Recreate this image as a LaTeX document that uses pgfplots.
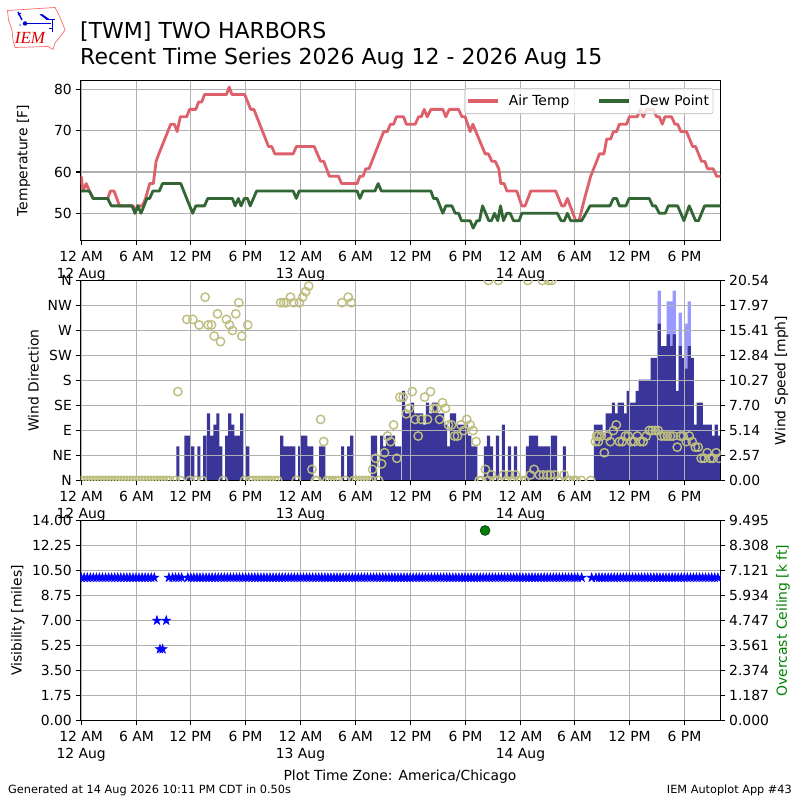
\documentclass[border=0pt]{standalone}
\usepackage{fontspec}
\setmainfont{DejaVu Sans}
\newfontfamily\logofont{Liberation Serif}
\usepackage{pgfplots}
\pgfplotsset{compat=1.18}
\definecolor{tempc}{RGB}{222,96,106}
\definecolor{dewc}{RGB}{50,102,52}
\definecolor{spdc}{RGB}{58,54,153}
\definecolor{gustc}{RGB}{153,153,255}
\definecolor{dirc}{RGB}{190,190,128}
\definecolor{gridc}{RGB}{176,176,176}
\pgfdeclareplotmark{fstar}{%
  \pgfpathmoveto{\pgfpointpolar{90}{\pgfplotmarksize}}%
  \pgfpathlineto{\pgfpointpolar{126}{0.382*\pgfplotmarksize}}%
  \pgfpathlineto{\pgfpointpolar{162}{\pgfplotmarksize}}%
  \pgfpathlineto{\pgfpointpolar{198}{0.382*\pgfplotmarksize}}%
  \pgfpathlineto{\pgfpointpolar{234}{\pgfplotmarksize}}%
  \pgfpathlineto{\pgfpointpolar{270}{0.382*\pgfplotmarksize}}%
  \pgfpathlineto{\pgfpointpolar{306}{\pgfplotmarksize}}%
  \pgfpathlineto{\pgfpointpolar{342}{0.382*\pgfplotmarksize}}%
  \pgfpathlineto{\pgfpointpolar{18}{\pgfplotmarksize}}%
  \pgfpathlineto{\pgfpointpolar{54}{0.382*\pgfplotmarksize}}%
  \pgfpathclose\pgfusepathqfillstroke}
\newcommand\fs{\fontsize{13.9bp}{17bp}\selectfont}
\pgfplotsset{
  base/.style={
    width=640bp, scale only axis, xmin=-0.073, xmax=69.964,
    font=\fs, tick style={black, line width=1.1bp}, major tick length=4.9bp,
    tick align=outside, axis line style={line width=1.1bp},
    grid style={gridc, line width=1.1bp},
    xtick={0,6.055,11.965,17.983,24.002,30.021,36.040,42.059,48.078,53.987,60.006,66.025},
    xticklabels={{12 AM\\12 Aug},6 AM,12 PM,6 PM,{12 AM\\13 Aug},6 AM,12 PM,6 PM,{12 AM\\14 Aug},6 AM,12 PM,6 PM},
    xticklabel style={align=center, anchor=north, inner sep=0pt, yshift=-5.2bp, font=\fs},
    yticklabel style={inner sep=0pt, font=\fs},
    clip marker paths=true,
  },
  lefttk/.style={yticklabel style={xshift=-3.6bp}},
}
\begin{document}
\begin{tikzpicture}
\path[use as bounding box] (0,0) rectangle (800bp,800bp);
% logo
\begin{scope}[x=1bp,y=-1bp,shift={(0bp,800bp)}]
  \draw[red!70!white!75!pink, line width=0.7bp, fill=white]
    (7.5,10.5)--(55,7.5)--(58,13)--(62,22)--(65,30)--(60,37)--(55,43)--(53,49.5)--(48,46.5)--(15,47.5)--(13,40)--(12,30)--(8.5,20)--cycle;
  \draw[blue!85!black, line width=1.5bp] (25,23.5)--(51,23.5);
  \fill[blue!85!black] (25,23.5) circle (2.2bp);
  \draw[blue!85!black, line width=1.5bp] (18,12)--(22,20);
  \draw[blue!85!black, line width=0.9bp] (21,25)--(19,25) (18,15)--(21,13);
  \fill[blue!85!black] (39.5,14.5)--(42,14)--(50,19.5)--(47,20)--cycle;
  \draw[blue!85!black, line width=0.9bp] (46,19)--(55,19) (52,19)--(52,32) (49,28)--(52,28);
  \node[font=\logofont\itshape\fontsize{17bp}{17bp}\selectfont, text=red!85!black, anchor=base, inner sep=0pt] at (30,44) {IEM};
\end{scope}
% titles
\node[anchor=base west, inner sep=0pt, font=\fontsize{22bp}{22bp}\selectfont] at (80bp,800bp-38.5bp) {[TWM] TWO HARBORS};
\node[anchor=base west, inner sep=0pt, font=\fontsize{22bp}{22bp}\selectfont] at (80bp,800bp-65bp) {Recent Time Series 2026 Aug 12 - 2026 Aug 15};
% TOP PANEL
\begin{axis}[base, lefttk, at={(80.5bp,559.5bp)}, anchor=south west, height=160bp,
  ymin=43.4, ymax=82.2, ytick={50,60,70,80}, yticklabels={50,60,70,80},
  xmajorgrids, ymajorgrids, xtick pos=bottom, ytick pos=left,
  axis background/.style={fill=white},
  ylabel={Temperature [F]},
  ylabel style={at={(axis description cs:-0.089,0.5)}, anchor=center, font=\fs},
  legend columns=2,
  legend cell align=left,
  legend style={at={(axis description cs:0.9888,0.952)}, anchor=north east, draw=black!20,
    fill=white, fill opacity=0.8, draw opacity=1, text opacity=1, rounded corners=2bp,
    line width=0.8bp, inner xsep=2bp, inner ysep=4.5bp, font=\fs,
    /tikz/every even column/.append style={column sep=26bp}},
  legend image code/.code={\draw[#1, line width=3.2bp] (0bp,0bp)--(30bp,0bp);\path (37bp,0bp);},
]
\addplot[tempc, line width=2.8bp, line join=round] coordinates {
(0,59)(0.2,55.4)(0.55,57.2)(0.9,55.4)(1.3,53.6)(2.9,53.6)(3.2,55.4)(3.6,55.4)(4.2,51.8)(5.7,51.8)(5.9,50)(6.15,51.8)(6.7,51.8)(7.05,53.6)(7.5,57.2)(7.9,57.2)(8.2,62.6)(8.5,64.4)(9.8,71.6)(10.2,71.6)(10.5,69.8)(10.85,73.4)(11.55,73.4)(11.85,75.2)(12.55,75.2)(12.85,77)(13.2,77)(13.5,78.8)(15.9,78.8)(16.2,80.6)(16.5,78.8)(17.9,78.8)(18.55,75.2)(18.9,75.2)(20.5,66.2)(20.85,66.2)(21.2,64.4)(23.2,64.4)(23.55,66.2)(25.5,66.2)(26.2,62.6)(26.55,62.6)(27.15,59)(28.15,59)(28.5,57.2)(30.2,57.2)(30.5,59)(30.85,59)(31.15,60.8)(31.5,60.8)(33.1,69.8)(33.5,69.8)(33.85,71.6)(34.2,71.6)(34.5,73.4)(35.28,73.4)(35.58,71.6)(36.56,71.6)(36.92,73.4)(37.22,73.4)(37.54,75.2)(37.87,73.4)(38.27,75.2)(39.58,75.2)(39.91,73.4)(40.28,75.2)(41.3,75.2)(41.66,73.4)(42.02,73.4)(42.57,69.8)(42.86,71.6)(44.21,64.4)(44.57,64.4)(44.94,62.6)(45.3,62.6)(45.7,60.8)(45.92,57.2)(46.29,57.2)(46.58,55.4)(47.67,55.4)(48.22,51.8)(48.58,51.8)(49.2,55.4)(51.93,55.4)(52.59,51.8)(52.88,51.8)(53.21,53.6)(54.12,48.2)(54.48,48.2)(55.14,54)(55.76,59)(56.41,62.6)(56.71,64.4)(57.21,64.4)(57.51,68)(57.94,68)(58.24,69.8)(58.6,69.8)(58.89,71.6)(59.69,71.6)(59.98,73.4)(60.86,73.4)(61.15,75.2)(61.51,73.4)(61.88,75.2)(62.61,75.2)(62.97,73.4)(63.26,73.4)(63.59,71.6)(63.88,73.4)(64.61,73.4)(64.97,71.6)(65.27,71.6)(65.63,69.8)(66.25,69.8)(66.91,66.2)(67.23,66.2)(67.89,62.6)(68.25,62.6)(68.54,60.8)(69.16,60.8)(69.53,59)(69.96,59)
};
\addlegendentry{Air Temp}
\addplot[dewc, line width=2.8bp, line join=round] coordinates {
(0,55.4)(0.9,55.4)(1.3,53.6)(2.9,53.6)(3.3,51.8)(5.55,51.8)(5.9,50)(6.2,51.8)(6.55,50)(7.2,53.6)(7.5,53.6)(7.85,55.4)(8.55,55.4)(8.9,57.2)(10.9,57.2)(12.2,50)(12.55,51.8)(13.5,51.8)(13.85,53.6)(16.55,53.6)(16.85,51.8)(17.2,53.6)(17.5,51.8)(17.85,53.6)(18.2,53.6)(18.5,51.8)(19.2,55.4)(23.2,55.4)(23.55,53.6)(23.85,55.4)(30.2,55.4)(30.5,53.6)(30.85,55.4)(32.15,55.4)(32.5,57.2)(32.85,55.4)(38.27,55.4)(38.56,53.6)(38.93,53.6)(39.58,50)(39.91,51.8)(40.57,51.8)(40.93,50)(41.3,50)(41.62,48.2)(42.57,48.2)(42.9,46.4)(43.3,48.2)(43.59,48.2)(43.92,51.8)(44.61,48.2)(44.9,48.2)(45.23,50)(45.59,48.2)(45.89,51.8)(46.21,48.2)(46.58,50)(46.94,50)(47.31,48.2)(47.93,48.2)(48.22,50)(52.11,50)(52.52,48.2)(52.88,48.2)(53.21,50)(53.57,48.2)(54.77,48.2)(55.69,51.8)(57.87,51.8)(58.24,53.6)(58.6,53.6)(58.89,51.8)(59.62,51.8)(59.95,53.6)(62.17,53.6)(62.53,51.8)(62.86,51.8)(63.26,50)(63.92,50)(64.25,51.8)(65.27,51.8)(65.96,48.2)(66.54,51.8)(67.23,48.2)(67.56,48.2)(68.22,51.8)(69.96,51.8)
};
\addlegendentry{Dew Point}
\end{axis}
% MIDDLE PANEL: wind speed bars (right axis)
\begin{axis}[base, at={(80.5bp,319.5bp)}, anchor=south west, height=200bp,
  ymin=0, ymax=20.54, ytick={0,2.5675,5.135,7.7025,10.27,12.8375,15.405,17.9725,20.54},
  yticklabels={0.00,2.57,5.14,7.70,10.27,12.84,15.41,17.97,20.54},
  yticklabel pos=right, ytick pos=right, xtick pos=bottom, xticklabels={},
  yticklabel style={xshift=3.6bp},
  axis background/.style={fill=white},
  ylabel={Wind Speed [mph]},
  ylabel style={at={(axis description cs:1.0955,0.5)}, anchor=center, font=\fs},
  ybar, bar width=3.2bp,
]
\addplot[bar shift=0bp, fill=gustc, draw=none] coordinates {
(63.26,19.5)(64.25,18.4)(64.57,18.4)(64.9,19.5)(65.56,17.25)(66.21,16.1)(66.54,18.4)
};
\addplot[bar shift=0bp, fill=spdc, draw=none] coordinates {
(10.58,3.5)(11.48,4.6)(11.8,4.6)(12.22,3.5)(12.88,3.5)(13.53,4.6)(13.93,6.9)(14.3,4.6)(14.63,5.75)(14.96,6.9)(15.28,3.5)(15.94,4.6)(16.27,6.9)(16.59,5.75)(16.92,4.6)(17.25,4.6)(17.58,6.9)(18.23,3.5)
(21.95,4.6)(22.28,3.5)(22.6,3.5)(22.93,3.5)(23.26,3.5)(23.92,3.5)(24.24,4.6)(24.57,4.6)(24.9,3.5)(25.23,3.5)
(26.21,3.5)(26.54,3.5)(28.61,3.5)(29.27,3.5)(29.6,4.6)
(31.89,4.6)(32.22,4.6)(32.88,4.6)(33.2,3.5)(33.53,4.6)(33.86,4.6)(34.19,4.6)(34.52,3.5)(34.84,3.5)(35.28,9.2)(35.61,6.9)(35.94,6.9)(36.26,8)(36.59,6.9)(36.92,6.9)(37.25,6.9)(37.57,5.75)(37.9,8)(38.23,6.9)(38.56,8)(38.89,8)(39.22,6.9)(39.54,6.9)(39.87,5.75)(40.2,3.5)(40.53,6.9)(40.85,6.9)(41.18,5.75)(41.51,5.75)(41.84,5.75)(42.17,5.75)(42.53,4.6)(42.86,3.5)(43.18,3.5)
(44.24,3.5)(44.57,4.6)(44.9,3.5)(45.55,4.6)(46.2,5.75)(46.87,3.5)(47.52,3.5)(48.83,3.5)(49.16,4.6)(49.49,4.6)(49.82,4.6)(50.15,3.5)(50.48,3.5)(50.81,3.5)(51.14,3.5)(51.57,4.6)(51.9,4.6)(52.88,3.5)
(56.27,5.75)(56.6,5.75)(56.9,5.75)(57.25,4.6)(57.58,6.9)(57.91,6.9)(58.24,8)(58.56,6.9)(58.89,8)(59.22,8)(59.55,6.9)(59.87,9.2)(60.2,8)(60.53,8)(60.86,9.2)(61.19,10.35)(61.51,10.35)(61.84,10.35)(62.17,10.35)(62.5,12.6)(62.83,12.6)(63.26,16.1)(63.59,13.8)(63.92,13.8)(64.25,15)(64.57,13.8)(64.9,15)(65.23,9.2)(65.56,13.8)(65.88,12.6)(66.21,11.5)(66.54,13.8)(66.87,12.6)(67.2,5.75)(67.52,8)(67.85,8)(68.18,5.75)(68.51,5.75)(68.84,5.75)(69.16,4.6)(69.49,5.75)(69.78,4.6)
};
\end{axis}
% MIDDLE PANEL: direction (left axis)
\begin{axis}[base, lefttk, at={(80.5bp,319.5bp)}, anchor=south west, height=200bp,
  ymin=0, ymax=360, ytick={0,45,...,360}, yticklabels={N,NE,E,SE,S,SW,W,NW,N},
  xmajorgrids, ymajorgrids, xtick pos=bottom, ytick pos=left,
  ylabel={Wind Direction},
  ylabel style={at={(axis description cs:-0.0735,0.5)}, anchor=center, font=\fs},
]
\addplot[only marks, mark=o, mark size=4.2bp, mark options={draw=dirc, line width=1.4bp, fill=none}] coordinates {
(0,0)(0.33,0)(0.67,0)(1,0)(1.33,0)(1.67,0)(2,0)(2.33,0)(2.67,0)(3,0)(3.33,0)(3.67,0)(4,0)(4.33,0)(4.67,0)(5,0)(5.33,0)(5.67,0)(6,0)(6.33,0)(6.67,0)(7,0)(7.33,0)(7.67,0)(8,0)(8.33,0)(8.67,0)(9,0)(9.33,0)(9.67,0)(10.25,0)(10.87,0)(11.9,0)(12.5,0)(13.24,0)(15.54,0)(17.87,0)
(18.5,0)(18.83,0)(19.17,0)(19.5,0)(19.83,0)(20.17,0)(20.5,0)(20.83,0)(21.17,0)(21.5,0)(23.55,0)(25.63,0)(25.81,0)(26.9,0)(27.2,0)(27.5,0)(27.8,0)(28.1,0)(28.9,0)(29.8,0)(30.13,0)(30.47,0)(30.8,0)(31.13,0)(31.47,0)(31.8,0)(32.55,0)(43.55,0)(43.84,0)(44.57,0)(45.55,0)(45.2,0)(46.53,0)(47.2,0)(47.85,0)(48.18,0)(48.51,0)
(52.2,0)(53.2,0)(53.5,0)(53.86,0)(54.16,0)(54.74,0)(55.76,0)
(10.58,160)(11.57,290)(12.22,290)(12.91,280)(13.57,330)(13.9,280)(14.26,280)(14.55,260)(14.92,300)(15.25,250)(15.9,290)(16.23,280)(16.56,270)(16.92,300)(17.25,320)(17.58,260)(18.23,280)
(21.84,320)(22.17,320)(22.46,320)(22.9,330)(23.26,320)(23.88,320)(24.24,330)(24.57,340)(24.9,350)(25.26,20)(26.21,110)(26.54,70)(28.54,320)(29.23,330)(29.56,320)
(31.89,20)(32.22,40)(32.88,30)(33.2,50)(33.53,80)(33.86,70)(34.19,100)(34.55,40)(34.88,150)(35.24,150)(35.57,120)(35.9,130)(36.23,160)(36.56,110)(36.88,80)(37.21,110)(37.58,150)(37.9,110)(38.23,160)(38.56,130)(38.89,130)(39.22,110)(39.54,140)(39.87,130)(40.2,100)(40.53,100)(40.85,80)(41.18,80)(41.55,100)(41.87,90)(42.2,110)(42.57,100)(42.89,90)(43.22,70)
(44.24,20)(44.9,10)(46.2,10)(46.87,10)(47.52,10)(49.16,10)(49.56,20)(50.14,10)(50.58,10)(51.02,10)(51.35,10)(51.82,10)(52.84,10)
(44.57,360)(45.66,360)(48.87,360)(50.47,360)(51.16,360)(51.5,360)
(56.27,70)(56.4,80)(56.6,80)(56.6,70)(56.92,80)(57.25,50)(57.58,80)(57.91,70)(58.24,90)(58.56,100)(58.89,70)(59.22,70)(59.55,80)(59.87,80)(60.2,70)(60.53,70)(60.86,80)(61.19,70)(61.51,70)(61.84,80)(62.17,90)(62.5,90)(62.83,90)(63.15,90)(63.48,80)(63.81,80)(64.14,80)(64.47,80)(64.79,80)(65.23,60)(65.56,80)(65.88,80)(66.21,70)(66.54,80)(66.87,70)(67.2,60)(67.52,60)(67.85,40)(68.18,40)(68.51,50)(68.84,40)(69.16,40)(69.49,50)(69.81,40)
};
\end{axis}
% BOTTOM PANEL: ceiling (right axis)
\begin{axis}[base, at={(80.5bp,79.5bp)}, anchor=south west, height=200bp,
  ymin=0, ymax=9.495, ytick={0,1.186875,2.37375,3.560625,4.7475,5.934375,7.12125,8.308125,9.495},
  yticklabels={0.000,1.187,2.374,3.561,4.747,5.934,7.121,8.308,9.495},
  yticklabel pos=right, ytick pos=right, xtick pos=bottom, xticklabels={},
  yticklabel style={xshift=3.6bp},
  axis background/.style={fill=white},
  ylabel={Overcast Ceiling [k ft]},
  ylabel style={at={(axis description cs:1.0975,0.5)}, anchor=center, font=\fs, text=green!50!black},
]
\end{axis}
% BOTTOM PANEL: visibility (left axis)
\begin{axis}[base, lefttk, at={(80.5bp,79.5bp)}, anchor=south west, height=200bp,
  ymin=0, ymax=14, ytick={0,1.75,...,14}, yticklabels={0.00,1.75,3.50,5.25,7.00,8.75,10.50,12.25,14.00},
  xmajorgrids, ymajorgrids, xtick pos=bottom, ytick pos=left,
  ylabel={Visibility [miles]},
  ylabel style={at={(axis description cs:-0.098,0.5)}, anchor=center, font=\fs},
]
\addplot[only marks, blue, mark=fstar, mark size=4.8bp, mark options={line width=0.5bp}] coordinates {
(0,10)(0.33,10)(0.67,10)(1,10)(1.33,10)(1.67,10)(2,10)(2.33,10)(2.67,10)(3,10)(3.33,10)(3.67,10)(4,10)(4.33,10)(4.67,10)(5,10)(5.33,10)(5.67,10)(6,10)(6.33,10)(6.67,10)(7,10)(7.33,10)(7.67,10)(8,10)(8.29,7)(8.62,5)(8.91,5)(9.31,7)(9.6,10)(10,10)(10.33,10)(10.67,10)(11,10)(11.67,10)(12,10)(12.33,10)(12.67,10)(13,10)(13.33,10)(13.67,10)(14,10)(14.33,10)(14.67,10)(15,10)(15.33,10)(15.67,10)(16,10)(16.33,10)(16.67,10)(17,10)(17.33,10)(17.67,10)(18,10)(18.33,10)(18.67,10)(19,10)(19.33,10)(19.67,10)(20,10)(20.33,10)(20.67,10)(21,10)(21.33,10)(21.67,10)(22,10)(22.33,10)(22.67,10)(23,10)(23.33,10)(23.67,10)(24,10)(24.33,10)(24.67,10)(25,10)(25.33,10)(25.67,10)(26,10)(26.33,10)(26.67,10)(27,10)(27.33,10)(27.67,10)(28,10)(28.33,10)(28.67,10)(29,10)(29.33,10)(29.67,10)(30,10)(30.33,10)(30.67,10)(31,10)(31.33,10)(31.67,10)(32,10)(32.33,10)(32.67,10)(33,10)(33.33,10)(33.67,10)(34,10)(34.33,10)(34.67,10)(35,10)(35.33,10)(35.67,10)(36,10)(36.33,10)(36.67,10)(37,10)(37.33,10)(37.67,10)(38,10)(38.33,10)(38.67,10)(39,10)(39.33,10)(39.67,10)(40,10)(40.33,10)(40.67,10)(41,10)(41.33,10)(41.67,10)(42,10)(42.33,10)(42.67,10)(43,10)(43.33,10)(43.67,10)(44,10)(44.33,10)(44.67,10)(45,10)(45.33,10)(45.67,10)(46,10)(46.33,10)(46.67,10)(47,10)(47.33,10)(47.67,10)(48,10)(48.33,10)(48.67,10)(49,10)(49.33,10)(49.67,10)(50,10)(50.33,10)(50.67,10)(51,10)(51.33,10)(51.67,10)(52,10)(52.33,10)(52.67,10)(53,10)(53.33,10)(53.67,10)(54,10)(54.33,10)(54.77,10)(55.87,10)(56.33,10)(56.67,10)(57,10)(57.33,10)(57.67,10)(58,10)(58.33,10)(58.67,10)(59,10)(59.33,10)(59.67,10)(60,10)(60.33,10)(60.67,10)(61,10)(61.33,10)(61.67,10)(62,10)(62.33,10)(62.67,10)(63,10)(63.33,10)(63.67,10)(64,10)(64.33,10)(64.67,10)(65,10)(65.33,10)(65.67,10)(66,10)(66.33,10)(66.67,10)(67,10)(67.33,10)(67.67,10)(68,10)(68.33,10)(68.67,10)(69,10)(69.33,10)(69.67,10)
};
\addplot[only marks, mark=*, mark size=5bp, mark options={draw=none, fill=green!50!black}] coordinates {(44.2,13.3)};
\end{axis}
% footer
\node[anchor=base, inner sep=0pt, font=\fs] at (400bp,800bp-780bp) {Plot Time Zone: America/Chicago};
\node[anchor=base west, inner sep=0pt, font=\fontsize{11.3bp}{11bp}\selectfont] at (8bp,800bp-793bp) {Generated at 14 Aug 2026 10:11 PM CDT in 0.50s};
\node[anchor=base east, inner sep=0pt, font=\fontsize{11.3bp}{11bp}\selectfont] at (792bp,800bp-793bp) {IEM Autoplot App \#43};
\end{tikzpicture}
\end{document}
